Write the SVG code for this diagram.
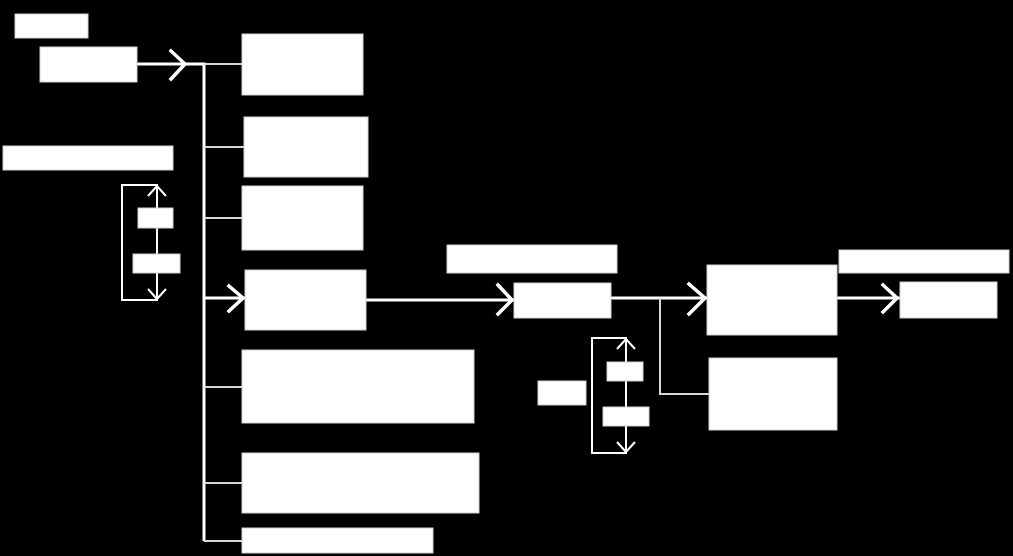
<svg xmlns="http://www.w3.org/2000/svg" width="1013" height="556" viewBox="0 0 1013 556">
<style>
.box{fill:#fff;stroke:#d0d0d0;stroke-width:1}
.thick{fill:none;stroke:#fff;stroke-width:3}
.thin{fill:none;stroke:#d8d8d8;stroke-width:2}
.loop{fill:none;stroke:#fff;stroke-width:2}
.head{fill:none;stroke:#fff;stroke-width:3.5;stroke-linecap:square}
</style>
<rect width="1013" height="556" fill="#000"/>
<g id="connectors">
  <path class="thick" d="M137 64 H204 V541"/>
  <path class="head" d="M171 51 L185 64 L171 79"/>
  <path class="thin" d="M204 64 H242 M204 147 H244 M204 218 H242 M204 387 H242 M204 483 H242 M204 541 H242"/>
  <path class="thick" d="M204 298 H245"/>
  <path class="head" d="M229 286 L243 298 L229 311"/>
  <path class="thick" d="M366 300 H514"/>
  <path class="head" d="M498 285 L512 300 L498 314"/>
  <path class="thick" d="M611 298 H707"/>
  <path class="head" d="M689 284 L705 298 L689 314"/>
  <path class="thin" d="M660 298 V394 H710"/>
  <path class="thick" d="M837 298 H900"/>
  <path class="head" d="M883 285 L897 298 L883 312"/>
  <path class="loop" d="M157 185 H122 V300 H157 Z"/>
  <path class="loop" d="M157 185 V300"/>
  <path class="loop" d="M148 196 L157 186 L166 196 M148 289 L157 299 L166 289"/>
  <path class="loop" d="M626 338 H592 V453 H626 Z"/>
  <path class="loop" d="M626 338 V453"/>
  <path class="loop" d="M617 349 L626 339 L635 349 M617 442 L626 452 L635 442"/>
</g>
<g id="label1"><rect class="box" x="15" y="14" width="73" height="24"/></g>
<g id="nodeA"><rect class="box" x="40" y="47" width="97" height="35"/></g>
<g id="nodeB1"><rect class="box" x="242" y="34" width="121" height="61"/></g>
<g id="nodeB2"><rect class="box" x="244" y="117" width="124" height="60"/></g>
<g id="nodeB3"><rect class="box" x="242" y="186" width="121" height="64"/></g>
<g id="nodeB4"><rect class="box" x="245" y="270" width="121" height="60"/></g>
<g id="nodeB5"><rect class="box" x="242" y="350" width="232" height="73"/></g>
<g id="nodeB6"><rect class="box" x="242" y="453" width="237" height="60"/></g>
<g id="nodeB7"><rect class="box" x="242" y="528" width="191" height="25"/></g>
<g id="label2"><rect class="box" x="3" y="146" width="170" height="24"/></g>
<g id="loop1a"><rect class="box" x="138" y="208" width="35" height="20"/></g>
<g id="loop1b"><rect class="box" x="133" y="254" width="47" height="19"/></g>
<g id="label3"><rect class="box" x="447" y="245" width="170" height="28"/></g>
<g id="nodeC"><rect class="box" x="514" y="283" width="97" height="35"/></g>
<g id="nodeD"><rect class="box" x="707" y="265" width="130" height="70"/></g>
<g id="nodeE"><rect class="box" x="709" y="358" width="128" height="72"/></g>
<g id="label5"><rect class="box" x="839" y="250" width="170" height="23"/></g>
<g id="nodeF"><rect class="box" x="900" y="282" width="97" height="36"/></g>
<g id="label4"><rect class="box" x="538" y="381" width="48" height="24"/></g>
<g id="loop2a"><rect class="box" x="607" y="362" width="36" height="19"/></g>
<g id="loop2b"><rect class="box" x="603" y="407" width="46" height="19"/></g>
</svg>
